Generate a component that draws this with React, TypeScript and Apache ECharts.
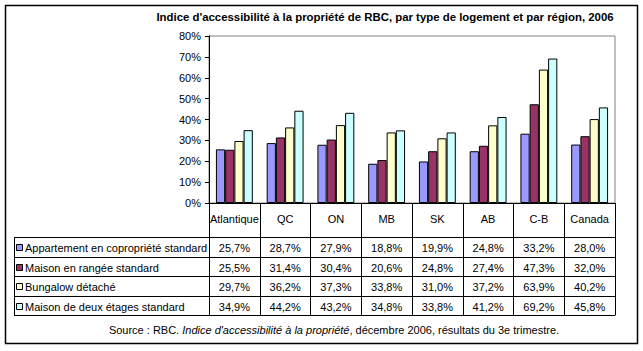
import React, { useEffect, useRef } from "react";
import * as echarts from "echarts";

const title = "Indice d'accessibilité à la propriété de RBC, par type de logement et par région, 2006";
const categories = ["Atlantique", "QC", "ON", "MB", "SK", "AB", "C-B", "Canada"];
const seriesNames = [
  "Appartement en copropriété standard",
  "Maison en rangée standard",
  "Bungalow détaché",
  "Maison de deux étages standard",
];
const appartement = [25.7, 28.7, 27.9, 18.8, 19.9, 24.8, 33.2, 28.0];
const maisonRangee = [25.5, 31.4, 30.4, 20.6, 24.8, 27.4, 47.3, 32.0];
const bungalow = [29.7, 36.2, 37.3, 33.8, 31.0, 37.2, 63.9, 40.2];
const deuxEtages = [34.9, 44.2, 43.2, 34.8, 33.8, 41.2, 69.2, 45.8];
const colors = ["#9999FF", "#993366", "#FFFFCC", "#CCFFFF"];

const FONT = "'Liberation Sans', Arial, sans-serif";

export default function App() {
  const ref = useRef<HTMLDivElement>(null);
  useEffect(() => {
    if (!ref.current) return;
    const chart = echarts.init(ref.current, null, { renderer: "svg" });
    const allData = [appartement, maisonRangee, bungalow, deuxEtages];
    const gridLeft = 209;
    const gridRight = 615;
    const gridTop = 36;
    const gridBottom = 203;
    const tableBottom = 315;
    const rowLines = [237, 257, 276, 296, 315];

    chart.setOption({
      animation: false,
      backgroundColor: "#ffffff",
      textStyle: { fontFamily: FONT },
      grid: {
        left: gridLeft,
        right: 643 - gridRight,
        top: gridTop,
        bottom: 351 - gridBottom,
        show: true,
        borderColor: "#808080",
        borderWidth: 1,
        backgroundColor: "#ffffff",
      },
      xAxis: {
        type: "category",
        data: categories,
        axisLine: { lineStyle: { color: "#000", width: 1 } },
        axisTick: { show: true, interval: 0, length: tableBottom - gridBottom, lineStyle: { color: "#000" } },
        axisLabel: { interval: 0, color: "#000", fontSize: 11, fontFamily: FONT, margin: 10 },
      },
      yAxis: {
        type: "value",
        min: 0,
        max: 80,
        interval: 10,
        splitLine: { show: false },
        axisLine: { show: true, lineStyle: { color: "#000" } },
        axisTick: { show: true, length: 4, lineStyle: { color: "#000" } },
        axisLabel: { color: "#000", fontSize: 11, fontFamily: FONT, margin: 8, formatter: "{value}%" },
      },
      series: allData.map((d, i) => ({
        name: seriesNames[i],
        type: "bar",
        data: d,
        barGap: "0%",
        barCategoryGap: "27.3%",
        itemStyle: { color: colors[i], borderColor: "#000", borderWidth: 1 },
      })),
    });

    const graphics: any[] = [];
    graphics.push({
      type: "rect",
      shape: { x: 5.5, y: 5.5, width: 632, height: 338 },
      style: { fill: "none", stroke: "#000", lineWidth: 1.5 },
      z: 100,
    });
    graphics.push({
      type: "text",
      x: 385,
      y: 17,
      style: {
        text: title,
        fontFamily: FONT,
        fontSize: 11.4,
        fontWeight: "bold",
        fill: "#000",
        align: "center",
        verticalAlign: "middle",
      },
    });
    rowLines.forEach((y) => {
      graphics.push({
        type: "line",
        shape: { x1: 14, y1: y + 0.5, x2: gridRight + 0.5, y2: y + 0.5 },
        style: { stroke: "#000", lineWidth: 1 },
        z: 50,
      });
    });
    graphics.push({
      type: "line",
      shape: { x1: 14.5, y1: rowLines[0], x2: 14.5, y2: tableBottom + 1 },
      style: { stroke: "#000", lineWidth: 1 },
      z: 50,
    });
    for (let r = 0; r < 4; r++) {
      const yc = (rowLines[r] + rowLines[r + 1]) / 2 + 1;
      graphics.push({
        type: "rect",
        shape: { x: 16.5, y: Math.round(yc) - 3.5, width: 6, height: 6 },
        style: { fill: colors[r], stroke: "#000", lineWidth: 1 },
        z: 50,
      });
      graphics.push({
        type: "text",
        x: 25,
        y: yc,
        style: {
          text: seriesNames[r],
          fontFamily: FONT,
          fontSize: 11,
          fill: "#000",
          align: "left",
          verticalAlign: "middle",
        },
        z: 50,
      });
      allData[r].forEach((v, c) => {
        const px = chart.convertToPixel({ xAxisIndex: 0 }, categories[c]) as number;
        graphics.push({
          type: "text",
          x: px,
          y: yc,
          style: {
            text: v.toFixed(1).replace(".", ",") + "%",
            fontFamily: FONT,
            fontSize: 11,
            fill: "#000",
            align: "center",
            verticalAlign: "middle",
          },
          z: 50,
        });
      });
    }
    graphics.push({
      type: "text",
      x: 334,
      y: 330,
      style: {
        text: "{n|Source : RBC. }{i|Indice d'accessibilité à la propriété}{n|, décembre 2006, résultats du 3e trimestre.}",
        align: "center",
        verticalAlign: "middle",
        rich: {
          n: { fontFamily: FONT, fontSize: 11, fill: "#000" },
          i: { fontFamily: FONT, fontSize: 11, fontStyle: "italic", fill: "#000" },
        },
      },
    });
    chart.setOption({ graphic: graphics });

    return () => chart.dispose();
  }, []);
  return (
    <div
      ref={ref}
      style={{ position: "absolute", left: 0, top: 0, width: 643, height: 351 }}
    />
  );
}
